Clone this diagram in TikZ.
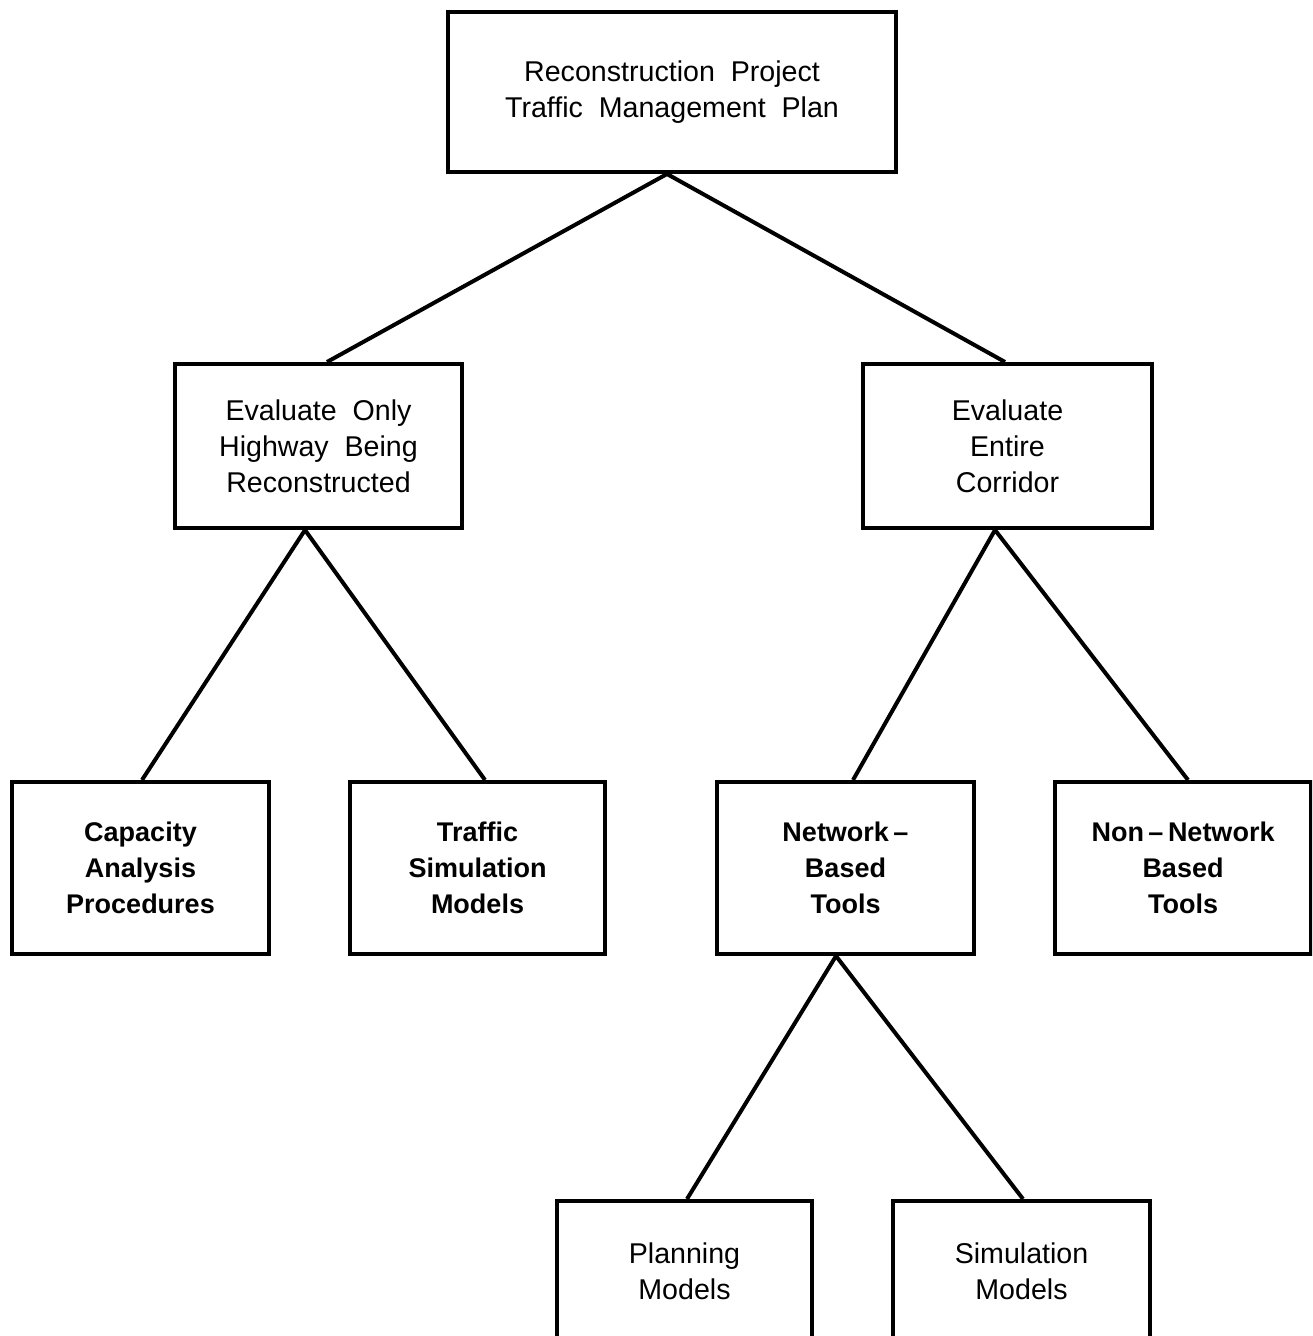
\documentclass[tikz,border=0pt]{standalone}
\usepackage{fontspec}
\setmainfont{Liberation Sans}
\usetikzlibrary{calc}
\begin{document}
\begin{tikzpicture}[x=0.5pt,y=-0.5pt,
  box/.style={draw,line width=2pt,rectangle,inner sep=0pt,align=center,
    font=\fontsize{14.3}{18}\selectfont},
  boldbox/.style={box,font=\fontsize{13.5}{18}\selectfont\bfseries},
  link/.style={line width=2pt}]
\useasboundingbox (0,0) rectangle (1312,1336);
\clip (0,0) rectangle (1312,1336);
\node[box,minimum width=224pt,minimum height=80pt] (top) at (672,92)
  {Reconstruction\ \ Project\\Traffic\ \ Management\ \ Plan};
\node[box,minimum width=143.5pt,minimum height=82pt] (lm) at (318.5,446)
  {Evaluate\ \ Only\\Highway\ \ Being\\Reconstructed};
\node[box,minimum width=144.5pt,minimum height=82pt] (rm) at (1007.5,446)
  {Evaluate\\Entire\\Corridor};
\node[boldbox,minimum width=128.5pt,minimum height=86pt] (l1) at (140.5,868)
  {Capacity\\Analysis\\Procedures};
\node[boldbox,minimum width=127.5pt,minimum height=86pt] (l2) at (477.5,868)
  {Traffic\\Simulation\\Models};
\node[boldbox,minimum width=128.5pt,minimum height=86pt] (r1) at (845.5,868)
  {Network\,--\\Based\\Tools};
\node[boldbox,minimum width=128pt,minimum height=86pt] (r2) at (1183,868)
  {Non\,--\,Network\\Based\\Tools};
\node[box,minimum width=127.5pt,minimum height=70pt] (b1) at (684.5,1271)
  {Planning\\Models};
\node[box,minimum width=128.5pt,minimum height=70pt] (b2) at (1021.5,1271)
  {Simulation\\Models};
\draw[link] ([xshift=-2.5pt]top.south) -- ([xshift=4.25pt]lm.north);
\draw[link] ([xshift=-2.5pt]top.south) -- ([xshift=-1.25pt]rm.north);
\draw[link] ([xshift=-6.75pt]lm.south) -- ([xshift=0.75pt]l1.north);
\draw[link] ([xshift=-6.75pt]lm.south) -- ([xshift=3.75pt]l2.north);
\draw[link] ([xshift=-6.25pt]rm.south) -- ([xshift=3.75pt]r1.north);
\draw[link] ([xshift=-6.25pt]rm.south) -- ([xshift=2.5pt]r2.north);
\draw[link] ([xshift=-4.75pt]r1.south) -- ([xshift=1.25pt]b1.north);
\draw[link] ([xshift=-4.75pt]r1.south) -- ([xshift=0.75pt]b2.north);
\end{tikzpicture}
\end{document}
